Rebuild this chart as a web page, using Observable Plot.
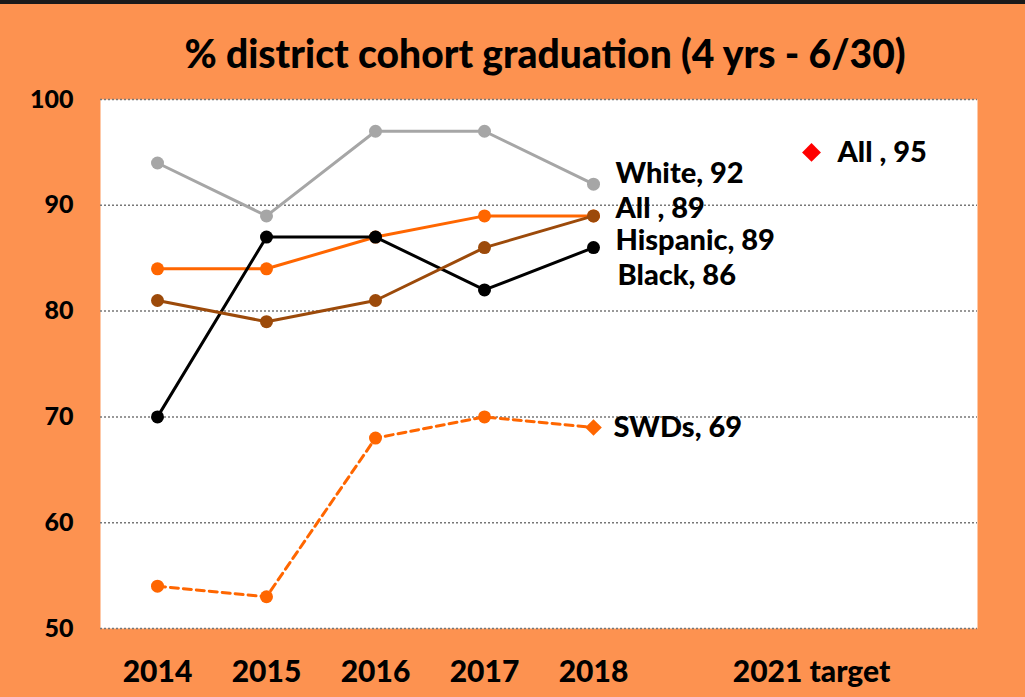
<!DOCTYPE html>
<html>
<head>
<meta charset="utf-8">
<script src="https://cdn.jsdelivr.net/npm/d3@7"></script>
<script src="https://cdn.jsdelivr.net/npm/@observablehq/plot@0.6"></script>
<style>
  html, body { margin: 0; padding: 0; }
  body { width: 1025px; height: 697px; background: #FD9250; overflow: hidden; font-family: Lato, "Open Sans", sans-serif; }
  #topbar { height: 4px; background: #1a1a1a; }
  #title { height: 81px; box-sizing: border-box; padding-top: 27px; text-align: center; padding-left: 65px;
           font-size: 39px; font-weight: 900; color: #000; line-height: 44px; }
  #chart svg { display: block; overflow: visible; }
</style>
</head>
<body>
<div id="topbar"></div>
<div id="title">% district cohort graduation (4 yrs - 6/30)</div>
<div id="chart"></div>
<script>
const categories = ["2014", "2015", "2016", "2017", "2018", "", "2021 target", " "];
const years = ["2014", "2015", "2016", "2017", "2018"];
const white = [94, 89, 97, 97, 92];
const all = [84, 84, 87, 89, 89];
const hispanic = [81, 79, 81, 86, 89];
const black = [70, 87, 87, 82, 86];
const swds = [54, 53, 68, 70, 69];
const targetCategory = "2021 target";
const targetValue = 95;
const yTicks = [50, 60, 70, 80, 90, 100];
const endLabels = ["White, 92", "All , 89", "Hispanic, 89", "Black, 86", "SWDs, 69"];
const targetLabel = "All , 95";

const rows = (name, vals) => years.map((y, i) => ({series: name, year: y, value: vals[i]}));
const seriesDefs = [
  {name: "White", vals: white, color: "#A6A6A6", dash: null},
  {name: "All", vals: all, color: "#FF6600", dash: null},
  {name: "Black", vals: black, color: "#000000", dash: null},
  {name: "Hispanic", vals: hispanic, color: "#9C4A0A", dash: null},
  {name: "SWDs", vals: swds, color: "#FF6600", dash: "8,5"}
];
const textStyle = {fontSize: 29, fontWeight: 900, fill: "#000", textAnchor: "start", fontFamily: "Lato, 'Open Sans', sans-serif"};

const marks = [
  Plot.frame({fill: "white", stroke: null}),
  Plot.gridY(yTicks, {stroke: "#777", strokeOpacity: 1, strokeWidth: 1.5, strokeDasharray: "2,2"}),
  Plot.axisY({ticks: yTicks, tickSize: 0, tickPadding: 27, fontSize: 25, fontWeight: 900, fontFamily: "Lato, sans-serif", label: null}),
  Plot.axisX({ticks: categories.filter(d => d.trim() !== ""), tickSize: 0, tickPadding: 32, fontSize: 30, fontWeight: 900, fontFamily: "Lato, sans-serif", label: null})
];
for (const s of seriesDefs) {
  const data = rows(s.name, s.vals);
  marks.push(Plot.line(data, {x: "year", y: "value", stroke: s.color, strokeWidth: 3, strokeDasharray: s.dash}));
  if (s.name === "SWDs") {
    marks.push(Plot.dot(data.slice(0, 4), {x: "year", y: "value", r: 6.5, fill: s.color}));
    marks.push(Plot.dot(data.slice(4), {x: "year", y: "value", r: 7.5, symbol: "diamond2", fill: s.color}));
  } else {
    marks.push(Plot.dot(data, {x: "year", y: "value", r: 6.5, fill: s.color}));
  }
}
const labelRows = [
  {year: "2018", value: white[4], text: endLabels[0], dy: -10, dx: 22},
  {year: "2018", value: all[4], text: endLabels[1], dy: -7, dx: 22},
  {year: "2018", value: hispanic[4], text: endLabels[2], dy: 25, dx: 22},
  {year: "2018", value: black[4], text: endLabels[3], dy: 28, dx: 24},
  {year: "2018", value: swds[4], text: endLabels[4], dy: 0, dx: 20}
];
for (const l of labelRows) {
  marks.push(Plot.text([l], {x: "year", y: "value", text: "text", dx: l.dx, dy: l.dy, ...textStyle}));
}
const target = [{year: targetCategory, value: targetValue, text: targetLabel}];
marks.push(Plot.dot(target, {x: "year", y: "value", symbol: "diamond2", r: 8.5, fill: "#FF0000"}));
marks.push(Plot.text(target, {x: "year", y: "value", text: "text", dx: 26, ...textStyle}));

const chart = Plot.plot({
  width: 1025,
  height: 612,
  marginTop: 14,
  marginBottom: 69,
  marginLeft: 100,
  marginRight: 48,
  style: {background: "transparent", color: "#000"},
  x: {type: "point", domain: categories, padding: 0.5},
  y: {domain: [50, 100]},
  marks
});
document.getElementById("chart").appendChild(chart);
</script>
</body>
</html>
